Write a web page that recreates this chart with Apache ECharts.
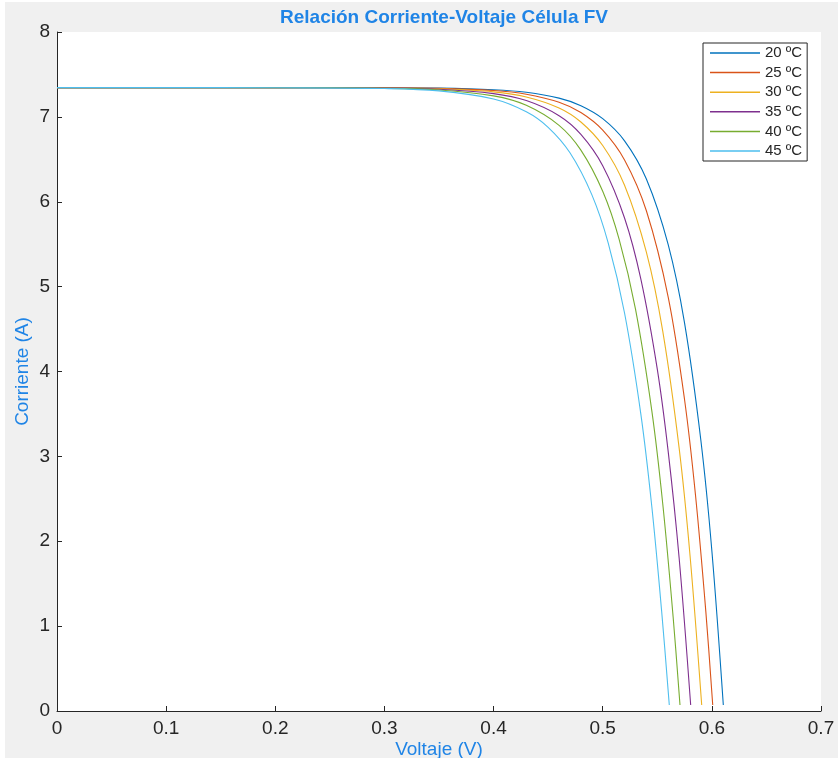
<!DOCTYPE html>
<html>
<head>
<meta charset="utf-8">
<script src="https://cdn.jsdelivr.net/npm/echarts@6/dist/echarts.min.js"></script>
<style>
  html, body { margin: 0; padding: 0; background: #ffffff; }
  #chart { width: 838px; height: 758px; }
</style>
</head>
<body>
<div id="chart"></div>
<script>
// Curvas I-V de una célula fotovoltaica a distintas temperaturas
const seriesNames = ['20 ºC', '25 ºC', '30 ºC', '35 ºC', '40 ºC', '45 ºC'];
const seriesColors = ['#0072BD', '#D95319', '#EDB120', '#7E2F8E', '#77AC30', '#4DBEEE'];

const xTicks = [0, 0.1, 0.2, 0.3, 0.4, 0.5, 0.6, 0.7];
const yTicks = [0, 1, 2, 3, 4, 5, 6, 7, 8];

// Voltaje (V) y corriente (A) de cada curva
const voltage20 = [0, 0.1, 0.2, 0.3, 0.35, 0.40, 0.43, 0.46, 0.48, 0.50, 0.52, 0.54, 0.56, 0.575, 0.59, 0.60, 0.6105];
const current20 = [7.345, 7.345, 7.345, 7.343, 7.339, 7.320, 7.290, 7.221, 7.132, 6.979, 6.718, 6.268, 5.494, 4.569, 3.181, 1.888, 0.07];

const voltage25 = [0, 0.1, 0.2, 0.3, 0.35, 0.40, 0.43, 0.46, 0.48, 0.50, 0.52, 0.54, 0.56, 0.575, 0.585, 0.5945, 0.6008];
const current25 = [7.345, 7.345, 7.345, 7.342, 7.336, 7.310, 7.267, 7.172, 7.051, 6.844, 6.493, 5.894, 4.877, 3.667, 2.545, 1.168, 0.07];

const voltage30 = [0, 0.1, 0.2, 0.3, 0.35, 0.40, 0.43, 0.46, 0.48, 0.50, 0.52, 0.54, 0.555, 0.57, 0.58, 0.5907];
const current30 = [7.345, 7.345, 7.344, 7.341, 7.331, 7.295, 7.235, 7.105, 6.940, 6.663, 6.195, 5.406, 4.476, 3.100, 1.833, 0.07];

const voltage35 = [0, 0.1, 0.2, 0.3, 0.35, 0.40, 0.43, 0.46, 0.48, 0.50, 0.52, 0.535, 0.55, 0.56, 0.57, 0.5806];
const current35 = [7.345, 7.345, 7.344, 7.339, 7.325, 7.274, 7.192, 7.014, 6.794, 6.425, 5.809, 5.086, 4.028, 3.056, 1.806, 0.07];

const voltage40 = [0, 0.1, 0.2, 0.3, 0.35, 0.40, 0.43, 0.46, 0.48, 0.50, 0.515, 0.53, 0.545, 0.555, 0.5645, 0.5708];
const current40 = [7.345, 7.345, 7.344, 7.337, 7.317, 7.247, 7.136, 6.900, 6.608, 6.123, 5.560, 4.737, 3.536, 2.442, 1.110, 0.07];

const voltage45 = [0, 0.1, 0.2, 0.3, 0.35, 0.40, 0.43, 0.45, 0.47, 0.49, 0.505, 0.52, 0.535, 0.545, 0.554, 0.561];
const current45 = [7.345, 7.345, 7.343, 7.334, 7.306, 7.211, 7.060, 6.877, 6.577, 6.084, 5.516, 4.689, 3.492, 2.406, 1.175, 0.07];

const voltages = [voltage20, voltage25, voltage30, voltage35, voltage40, voltage45];
const currents = [current20, current25, current30, current35, current40, current45];

const blue = '#1f84e6';
const dark = '#262626';
const font = '"Liberation Sans", Arial, Helvetica, sans-serif';

const chart = echarts.init(document.getElementById('chart'), null, { renderer: 'canvas' });

const series = seriesNames.map((name, k) => ({
  name: name,
  type: 'line',
  data: voltages[k].map((v, i) => [v, currents[k][i]]),
  symbol: 'none',
  smooth: 0.35,
  lineStyle: { color: seriesColors[k], width: 1.1 },
  itemStyle: { color: seriesColors[k] },
  animation: false
}));

chart.setOption({
  animation: false,
  backgroundColor: '#f0f0f0',
  title: {
    text: 'Relación Corriente-Voltaje Célula FV',
    left: 439,
    textAlign: 'center',
    top: 3,
    textStyle: { color: blue, fontSize: 19, fontWeight: 'bold', fontFamily: font }
  },
  graphic: [
    { type: 'rect', left: 0, top: 0, shape: { width: 838, height: 2 }, style: { fill: '#ffffff' }, silent: true },
    { type: 'rect', left: 0, top: 0, shape: { width: 5, height: 758 }, style: { fill: '#ffffff' }, silent: true }
  ],
  grid: {
    left: 57, right: 17, top: 32, bottom: 47,
    outerBoundsMode: 'none',
    containLabel: false,
    show: true, backgroundColor: '#ffffff', borderWidth: 0
  },
  legend: {
    data: seriesNames,
    orient: 'vertical',
    left: 703,
    top: 43,
    padding: [2, 5, 2, 7],
    itemGap: 3.6,
    itemWidth: 50,
    itemHeight: 1.5,
    icon: 'rect',
    backgroundColor: '#ffffff',
    borderColor: dark,
    borderWidth: 1,
    textStyle: { color: dark, fontSize: 15, fontFamily: font, lineHeight: 16 }
  },
  xAxis: {
    type: 'value',
    min: xTicks[0],
    max: xTicks[xTicks.length - 1],
    interval: 0.1,
    name: 'Voltaje (V)',
    nameLocation: 'middle',
    nameGap: 29,
    nameMoveOverlap: false,
    nameTextStyle: { color: blue, fontSize: 19, fontFamily: font },
    axisLine: { show: true, onZero: false, lineStyle: { color: dark, width: 1 } },
    axisTick: { show: true, inside: true, length: 5, lineStyle: { color: dark } },
    axisLabel: {
      color: dark, fontSize: 19, fontFamily: font, margin: 8,
      formatter: v => String(Math.round(v * 10) / 10)
    },
    splitLine: { show: false }
  },
  yAxis: {
    type: 'value',
    min: yTicks[0],
    max: yTicks[yTicks.length - 1],
    interval: 1,
    name: 'Corriente (A)',
    nameLocation: 'middle',
    nameGap: 25,
    nameMoveOverlap: false,
    nameRotate: 90,
    nameTextStyle: { color: blue, fontSize: 19, fontFamily: font },
    axisLine: { show: true, onZero: false, lineStyle: { color: dark, width: 1 } },
    axisTick: { show: true, inside: true, length: 5, lineStyle: { color: dark } },
    axisLabel: { color: dark, fontSize: 19, fontFamily: font, margin: 7 },
    splitLine: { show: false }
  },
  series: series
});
</script>
</body>
</html>
